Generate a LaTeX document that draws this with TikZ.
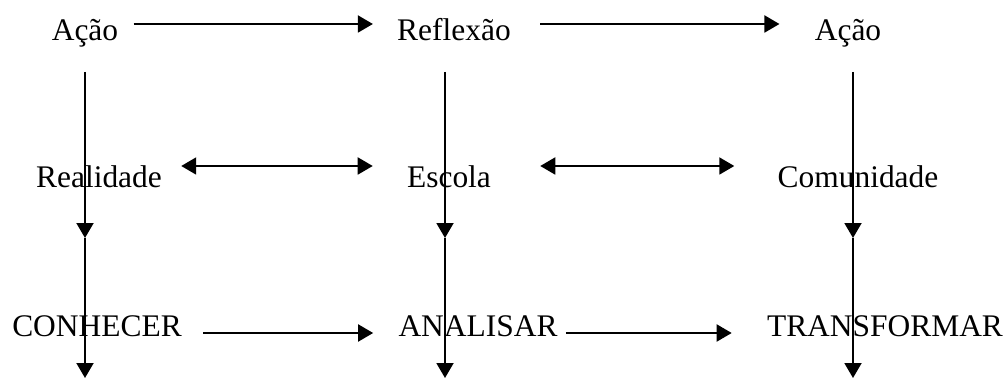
\documentclass[tikz,border=0pt]{standalone}
\usepackage{fontspec}
\setmainfont{Liberation Serif}
\usetikzlibrary{arrows.meta}

\tikzset{
	word/.style={anchor=base, inner sep=0pt, font=\fontsize{17.9}{21}\selectfont},
	arr/.style={line width=1.1pt, -{Triangle[length=0.3cm, width=0.34cm]}},
	dblarr/.style={line width=1.1pt, {Triangle[length=0.3cm, width=0.34cm]}-{Triangle[length=0.3cm, width=0.34cm]}}
}

\begin{document}
\begin{tikzpicture}[x=0.02cm, y=-0.02cm]

		\useasboundingbox (0,0) rectangle (1008,378);

		% row  Ação -> Reflexão -> Ação
		\node[word] (acao1) at (85,41) {Ação};
		\node[word] (reflexao) at (454,41) {Reflexão};
		\node[word] (acao2) at (848,41) {Ação};

		% row  Realidade <-> Escola <-> Comunidade
		\node[word] (realidade) at (99,188) {Realidade};
		\node[word] (escola) at (449,188) {Escola};
		\node[word] (comunidade) at (858,188) {Comunidade};

		% row  CONHECER -> ANALISAR -> TRANSFORMAR
		\node[word] (conhecer) at (97,337) {CONHECER};
		\node[word] (analisar) at (478,337) {ANALISAR};
		\node[word] (transformar) at (885,337) {TRANSFORMAR};

		% columns
		\coordinate (mid1) at (85,238);
		\coordinate (mid2) at (445,238);
		\coordinate (mid3) at (853,238);
		\coordinate (end1) at (85,378);
		\coordinate (end2) at (445,378);
		\coordinate (end3) at (853,378);

		% horizontal arrows
		\draw[arr] ([shift={(15,-17)}]acao1.base east) -- ([shift={(-24,-17)}]reflexao.base west);
		\draw[arr] ([shift={(29,-17)}]reflexao.base east) -- ([shift={(-35,-17)}]acao2.base west);

		\draw[dblarr] ([shift={(19,-22)}]realidade.base east) -- ([shift={(-34,-22)}]escola.base west);
		\draw[dblarr] ([shift={(49,-22)}]escola.base east) -- ([shift={(-43,-22)}]comunidade.base west);

		\draw[arr] ([shift={(21,-4)}]conhecer.base east) -- ([shift={(-25,-4)}]analisar.base west);
		\draw[arr] ([shift={(8,-4)}]analisar.base east) -- ([shift={(-35,-4)}]transformar.base west);

		% vertical arrows
		\draw[arr] (acao1.base -| mid1) ++(0,31) -- (mid1);
		\draw[arr] (reflexao.base -| mid2) ++(0,31) -- (mid2);
		\draw[arr] (acao2.base -| mid3) ++(0,31) -- (mid3);

		\draw[arr] (mid1) -- (end1);
		\draw[arr] (mid2) -- (end2);
		\draw[arr] (mid3) -- (end3);

	\end{tikzpicture}
\end{document}
